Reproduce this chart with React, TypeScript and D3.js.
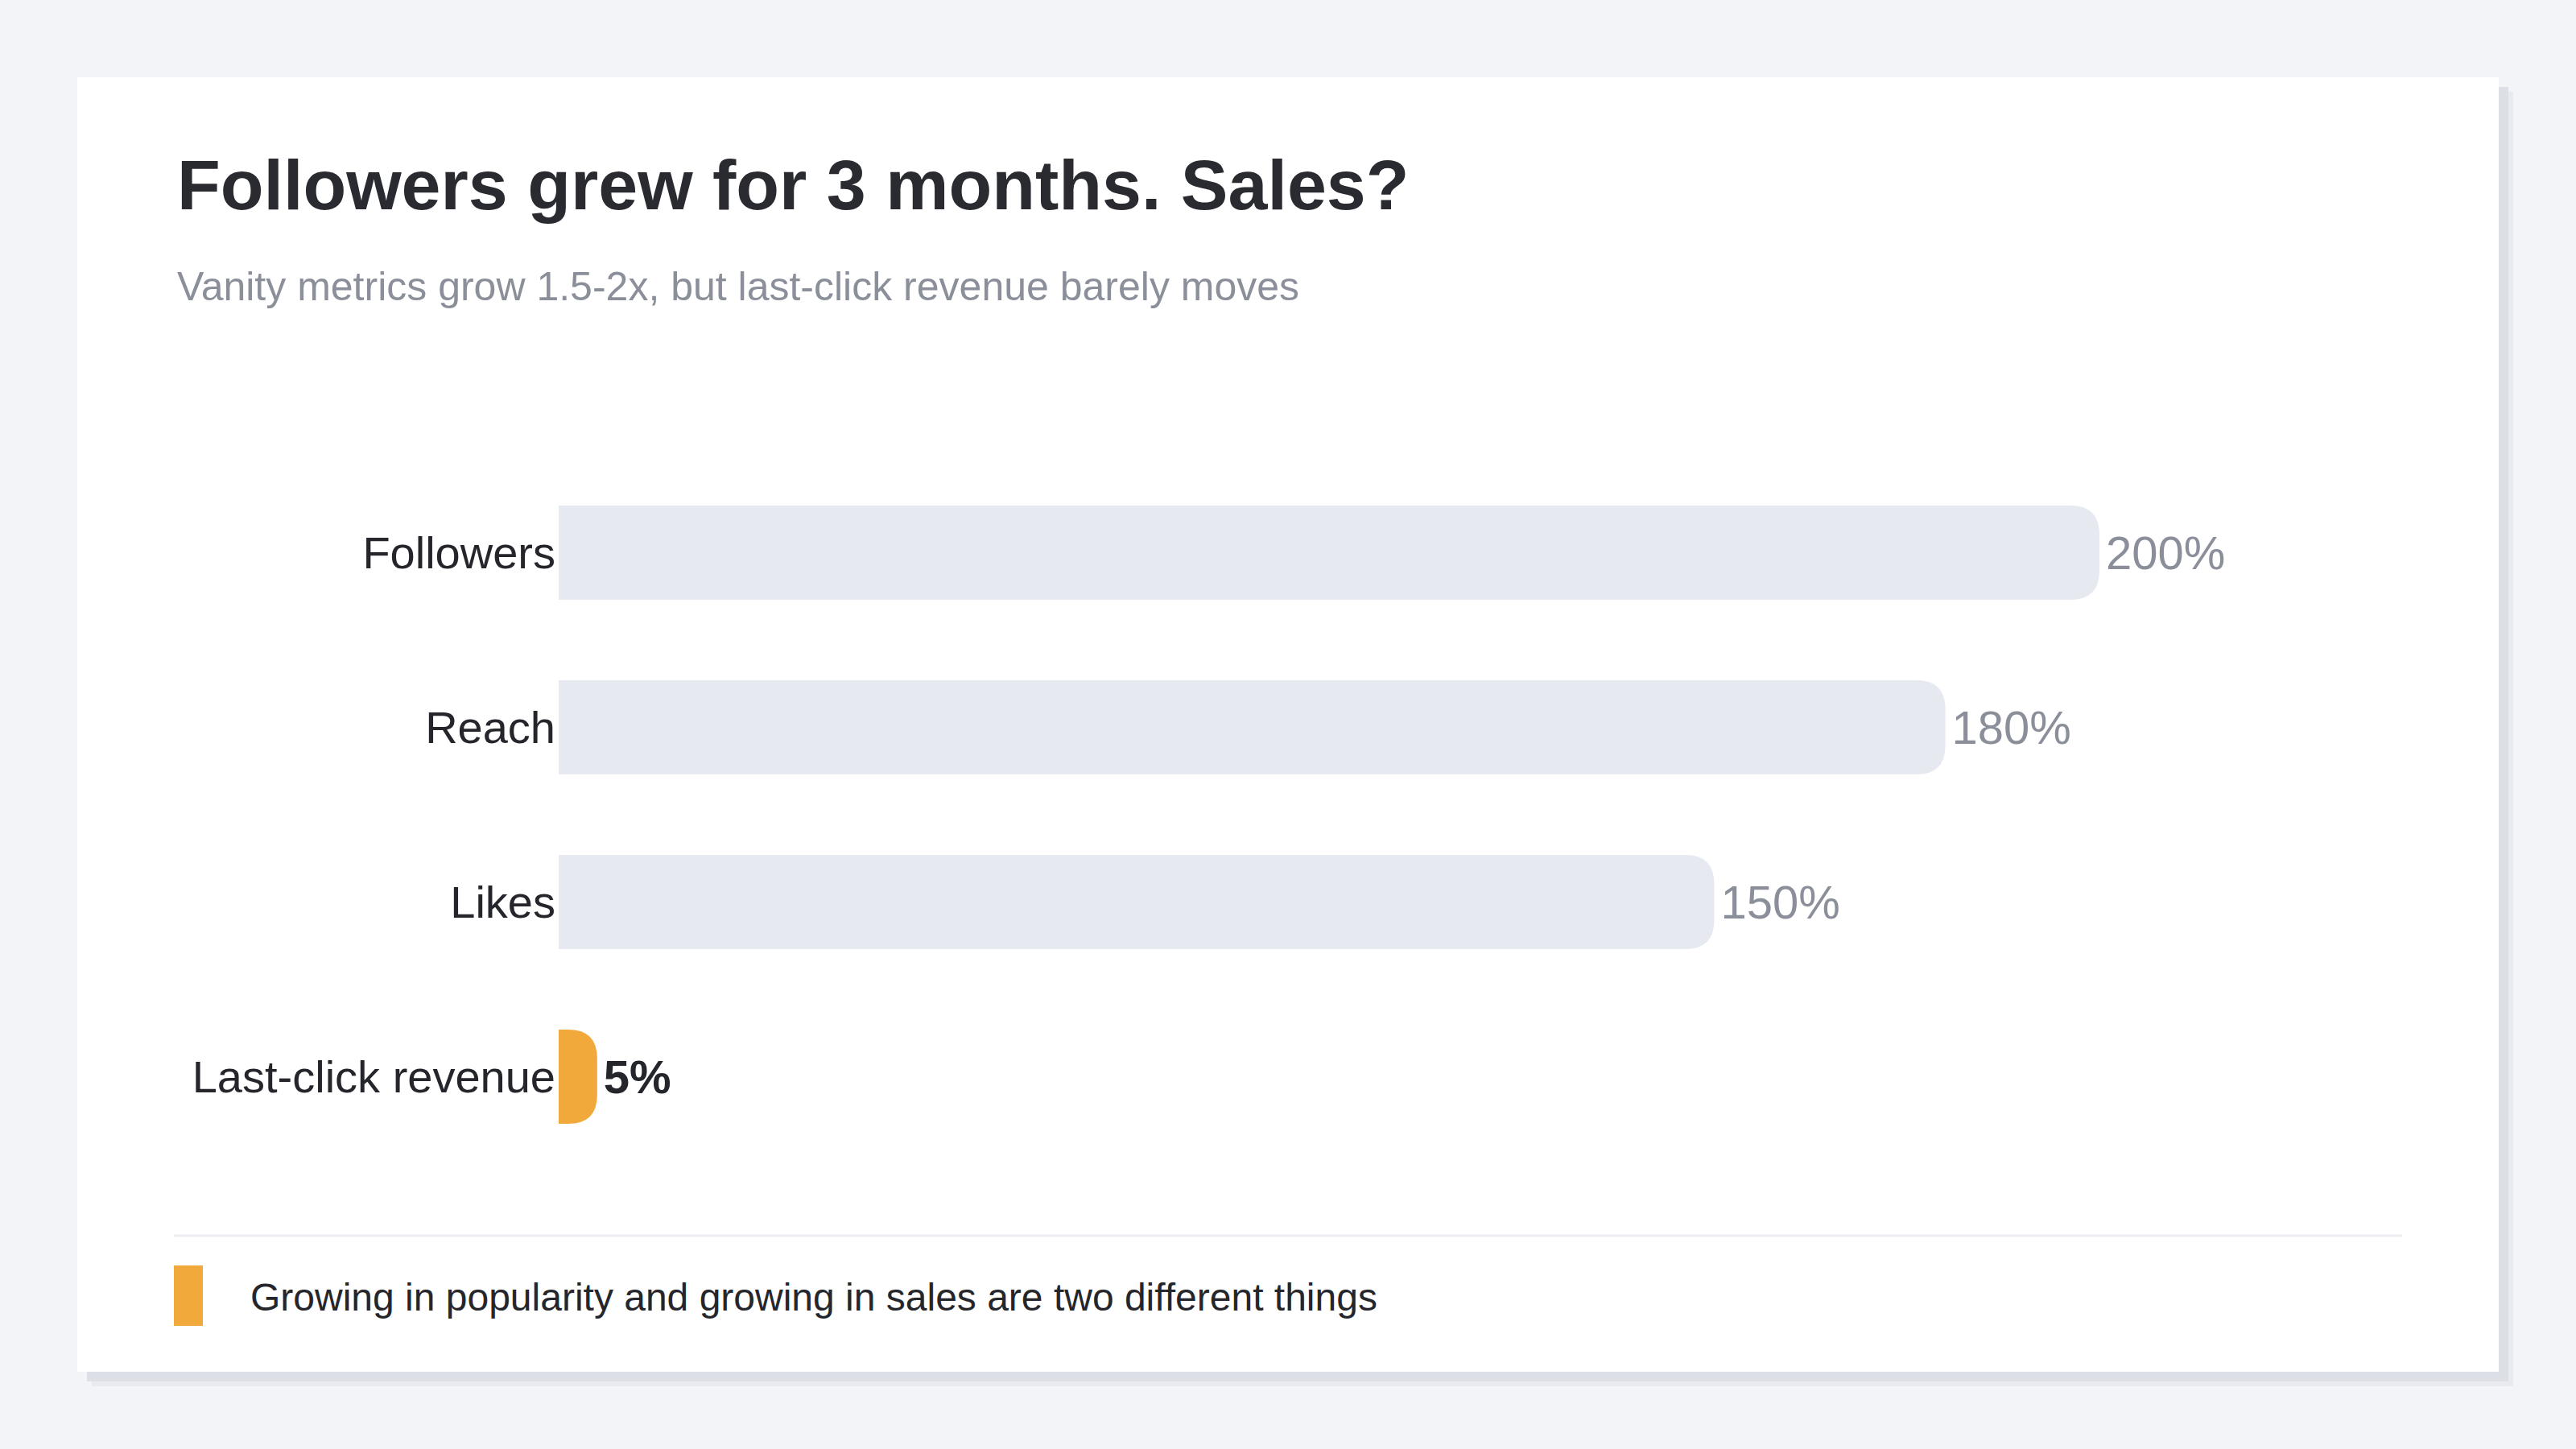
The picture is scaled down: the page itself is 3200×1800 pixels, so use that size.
import React, { useEffect, useRef } from 'react';
import * as d3 from 'd3';

const CATEGORIES = ['Followers', 'Reach', 'Likes', 'Last-click revenue'];
const GROWTH = [200, 180, 150, 5];
const HIGHLIGHT = ['Last-click revenue'];

const TITLE = 'Followers grew for 3 months. Sales?';
const SUBTITLE = 'Vanity metrics grow 1.5-2x, but last-click revenue barely moves';
const NOTE = 'Growing in popularity and growing in sales are two different things';

const WIDTH = 3200;
const HEIGHT = 1800;
const CARD = { x: 96, y: 96, w: 3008, h: 1608 };
const FONT = '"Liberation Sans", Arial, Helvetica, sans-serif';
const ORANGE = '#f1a93c';
const MUTED_BAR = '#e6e9f0';

// bar with square left end and rounded right corners
const barPath = (x0: number, x1: number, y: number, h: number, r: number) => {
  const rr = Math.min(r, (x1 - x0), h / 2);
  return `M${x0},${y}H${x1 - rr}Q${x1},${y} ${x1},${y + rr}V${y + h - rr}Q${x1},${y + h} ${x1 - rr},${y + h}H${x0}Z`;
};

const App = () => {
  const ref = useRef<SVGSVGElement>(null);

  useEffect(() => {
    const svg = d3.select(ref.current);
    svg.selectAll('*').remove();

    svg.append('rect').attr('width', WIDTH).attr('height', HEIGHT).attr('fill', '#f3f4f8');

    // card with a flat offset shadow
    svg.append('rect')
      .attr('x', CARD.x + 18).attr('y', CARD.y + 18)
      .attr('width', CARD.w).attr('height', CARD.h)
      .attr('fill', '#e8eaef');
    svg.append('rect')
      .attr('x', CARD.x + 12).attr('y', CARD.y + 12)
      .attr('width', CARD.w).attr('height', CARD.h)
      .attr('fill', '#dcdfe6');
    svg.append('rect')
      .attr('x', CARD.x).attr('y', CARD.y)
      .attr('width', CARD.w).attr('height', CARD.h)
      .attr('fill', '#ffffff');

    svg.append('text')
      .attr('x', 220).attr('y', 260)
      .attr('font-family', FONT).attr('font-size', 88).attr('font-weight', 700)
      .attr('fill', '#2a2b31')
      .text(TITLE);

    svg.append('text')
      .attr('x', 220).attr('y', 373)
      .attr('font-family', FONT).attr('font-size', 50)
      .attr('fill', '#8a8f9a')
      .text(SUBTITLE);

    const xScale = d3.scaleLinear().domain([0, 200]).range([694, 2608]);
    const yScale = d3.scaleBand<string>()
      .domain(CATEGORIES)
      .range([628, 1396])
      .paddingInner(100 / 217)
      .paddingOuter(0);

    const data = CATEGORIES.map((c, i) => ({ category: c, value: GROWTH[i], hot: HIGHLIGHT.includes(c) }));
    const chart = svg.append('g');

    chart.selectAll('.bar')
      .data(data)
      .enter()
      .append('path')
      .classed('bar', true)
      .attr('d', d => barPath(xScale(0), xScale(d.value), yScale(d.category)!, yScale.bandwidth(), 36))
      .attr('fill', d => (d.hot ? ORANGE : MUTED_BAR));

    chart.selectAll('.cat')
      .data(data)
      .enter()
      .append('text')
      .classed('cat', true)
      .attr('x', xScale(0) - 4)
      .attr('y', d => yScale(d.category)! + yScale.bandwidth() / 2)
      .attr('dy', '0.35em')
      .attr('text-anchor', 'end')
      .attr('font-family', FONT).attr('font-size', 56)
      .attr('fill', '#25262b')
      .text(d => d.category);

    chart.selectAll('.value')
      .data(data)
      .enter()
      .append('text')
      .classed('value', true)
      .attr('x', d => xScale(d.value) + 8)
      .attr('y', d => yScale(d.category)! + yScale.bandwidth() / 2)
      .attr('dy', '0.35em')
      .attr('font-family', FONT).attr('font-size', 58)
      .attr('font-weight', d => (d.hot ? 700 : 400))
      .attr('fill', d => (d.hot ? '#25262b' : '#8a8f9a'))
      .text(d => `${d.value}%`);

    // footer note
    svg.append('line')
      .attr('x1', 216).attr('x2', 2984)
      .attr('y1', 1535).attr('y2', 1535)
      .attr('stroke', '#eceef2').attr('stroke-width', 3);

    svg.append('rect')
      .attr('x', 216).attr('y', 1572)
      .attr('width', 36).attr('height', 75)
      .attr('fill', ORANGE);

    svg.append('text')
      .attr('x', 311).attr('y', 1628)
      .attr('font-family', FONT).attr('font-size', 48)
      .attr('fill', '#25262b')
      .text(NOTE);
  }, []);

  return (
    <svg
      ref={ref}
      width={WIDTH}
      height={HEIGHT}
      style={{ position: 'absolute', left: 0, top: 0, display: 'block' }}
    />
  );
};

export default App;
